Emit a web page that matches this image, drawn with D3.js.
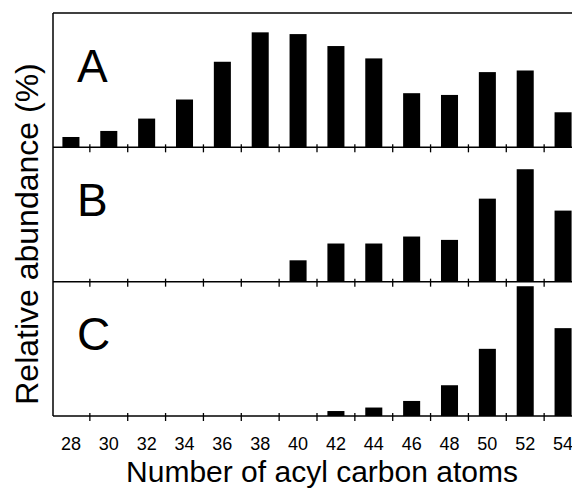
<!DOCTYPE html>
<html>
<head>
<meta charset="utf-8">
<script src="https://cdn.jsdelivr.net/npm/d3@7"></script>
<style>
  html, body { margin: 0; padding: 0; background: #fff; }
  svg { display: block; }
  text { font-family: "Liberation Sans", Arial, Helvetica, sans-serif; fill: #000; }
</style>
</head>
<body>
<svg id="chart" width="572" height="488"></svg>
<script>
const categories = [28, 30, 32, 34, 36, 38, 40, 42, 44, 46, 48, 50, 52, 54];
const panelLabels = ["A", "B", "C"];
const seriesA = [7.7, 12.2, 21.4, 35.6, 63.7, 85.6, 84.3, 75.4, 66.2, 40.3, 39.0, 56.0, 57.2, 26.1];
const seriesB = [0, 0, 0, 0, 0, 0, 15.9, 28.4, 28.4, 33.6, 31.1, 61.8, 83.7, 52.9];
const seriesC = [0, 0, 0, 0, 0, 0, 0, 3.7, 6.3, 11.2, 22.9, 50.0, 96.6, 65.4];
const xTitle = "Number of acyl carbon atoms";
const yTitle = "Relative abundance (%)";

const allSeries = [seriesA, seriesB, seriesC];
const svg = d3.select("#chart");

const plotLeft = 53, plotRight = 582, plotTop = 13, plotBottom = 416;

const x = d3.scaleBand().domain(categories).range([52, plotRight]).paddingInner(0.55).paddingOuter(0.275);
const panel = d3.scaleBand().domain(panelLabels).range([plotTop, plotBottom]).padding(0);
const ph = panel.bandwidth();
const y = d3.scaleLinear().domain([0, 100]).range([ph, 0]);

// top border
svg.append("line").attr("x1", plotLeft).attr("x2", 572).attr("y1", plotTop).attr("y2", plotTop)
  .attr("stroke", "#000").attr("stroke-width", 1.5);
// left axis
svg.append("line").attr("x1", plotLeft).attr("x2", plotLeft).attr("y1", plotTop).attr("y2", plotBottom)
  .attr("stroke", "#000").attr("stroke-width", 1.5);

panelLabels.forEach((lab, i) => {
  const g = svg.append("g").attr("transform", `translate(0,${panel(lab)})`);
  const data = categories.map((c, j) => ({ c, v: allSeries[i][j] }));
  g.selectAll("rect").data(data.filter(d => d.v > 0)).join("rect")
    .attr("x", d => x(d.c))
    .attr("width", x.bandwidth())
    .attr("y", d => y(d.v))
    .attr("height", d => y(0) - y(d.v))
    .attr("fill", "#000");

  // baseline axis with between-bar ticks
  const base = g.append("g").attr("transform", `translate(0,${ph})`);
  base.append("line").attr("x1", plotLeft).attr("x2", 572).attr("y1", 0).attr("y2", 0)
    .attr("stroke", "#000").attr("stroke-width", 1.5);
  base.selectAll("line.tick").data(categories.slice(0, -1)).join("line")
    .attr("class", "tick")
    .attr("x1", d => x(d) + x.bandwidth() / 2 + x.step() / 2)
    .attr("x2", d => x(d) + x.bandwidth() / 2 + x.step() / 2)
    .attr("y1", -3).attr("y2", 5)
    .attr("stroke", "#000").attr("stroke-width", 1.3);

  g.append("text").attr("x", 77).attr("y", 0.51 * ph)
    .attr("font-size", 46).text(lab);
});

// x tick labels
svg.append("g").selectAll("text").data(categories).join("text")
  .attr("x", d => x(d) + x.bandwidth() / 2)
  .attr("y", 450)
  .attr("text-anchor", "middle")
  .attr("font-size", 18)
  .text(d => d);

svg.append("text").attr("x", 322).attr("y", 482)
  .attr("text-anchor", "middle").attr("font-size", 30).text(xTitle);

svg.append("text")
  .attr("transform", "translate(38,234) rotate(-90)")
  .attr("text-anchor", "middle").attr("font-size", 32).text(yTitle);
</script>
</body>
</html>
